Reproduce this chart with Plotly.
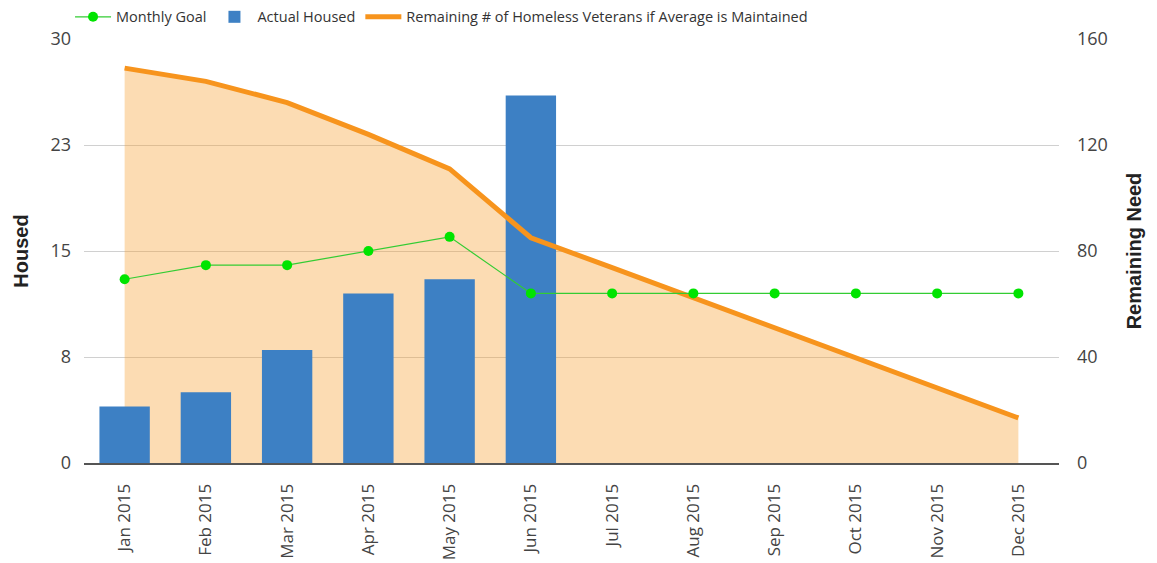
import plotly.graph_objects as go

months = ["Jan 2015", "Feb 2015", "Mar 2015", "Apr 2015", "May 2015", "Jun 2015",
          "Jul 2015", "Aug 2015", "Sep 2015", "Oct 2015", "Nov 2015", "Dec 2015"]
monthly_goal = [13, 14, 14, 15, 16, 12, 12, 12, 12, 12, 12, 12]
actual_months = months[:6]
actual_housed = [4, 5, 8, 12, 13, 26]
remaining = [149, 144, 136, 124, 111, 85, 73.7, 62.3, 51, 39.7, 28.3, 17]

left_tickvals = [0, 7.5, 15, 22.5, 30]
left_ticktext = ["0", "8", "15", "23", "30"]
right_tickvals = [0, 40, 80, 120, 160]

ORANGE = "#F7941D"
BLUE = "#3D80C4"
GREEN = "#00E400"

fig = go.Figure()

# area fill (base axis y, right side)
fig.add_trace(go.Scatter(
    x=months, y=remaining, yaxis="y", mode="none", fill="tozeroy",
    fillcolor="rgba(248,160,50,0.37)", showlegend=False, hoverinfo="skip"))

# bars on left axis (overlay)
fig.add_trace(go.Bar(
    x=actual_months, y=actual_housed, yaxis="y2", name="Actual Housed",
    marker=dict(color=BLUE, line=dict(width=0)), width=0.62, legendrank=2))

# orange line on top of bars
fig.add_trace(go.Scatter(
    x=months, y=remaining, yaxis="y3", mode="lines",
    name="Remaining # of Homeless Veterans if Average is Maintained",
    line=dict(color=ORANGE, width=5), legendrank=3))

# green goal line
fig.add_trace(go.Scatter(
    x=months, y=monthly_goal, yaxis="y4", mode="lines+markers", name="Monthly Goal",
    line=dict(color="#33CC33", width=1.2), marker=dict(color=GREEN, size=10), legendrank=1))

tickfont = dict(family="Open Sans", size=18, color="#444")
xtickfont = dict(family="Open Sans", size=17, color="#444")
titlefont = dict(family="Liberation Sans", size=20, color="#222")

fig.update_layout(
    width=1149, height=555,
    margin=dict(l=76, r=98, t=31, b=100),
    plot_bgcolor="white", paper_bgcolor="white",
    xaxis=dict(type="category", range=[-0.5, 11.5], tickangle=-90, tickfont=xtickfont,
               showgrid=False, showline=True, linecolor="#555", linewidth=2, ticks="",
               ticklabelstandoff=12, automargin=False),
    yaxis=dict(side="right", range=[0, 160], tickvals=right_tickvals, tickfont=tickfont,
               showgrid=True, gridcolor="#D0D0D0", gridwidth=1, zeroline=False,
               ticklabelstandoff=17, automargin=False,
               title=dict(text="<b>Remaining Need</b>", font=titlefont, standoff=20)),
    yaxis2=dict(side="left", overlaying="y", range=[0, 30], tickvals=left_tickvals,
                ticktext=left_ticktext, tickfont=tickfont, showgrid=False, zeroline=False,
                ticklabelstandoff=12, automargin=False,
                title=dict(text="<b>Housed</b>", font=titlefont, standoff=16)),
    yaxis3=dict(overlaying="y", range=[0, 160], visible=False),
    yaxis4=dict(overlaying="y", range=[0, 30], visible=False),
    legend=dict(orientation="h", xref="container", x=0.054, xanchor="left",
                yref="container", y=0.984, yanchor="middle",
                font=dict(family="Open Sans", size=14.5, color="#333"), itemwidth=36,
                traceorder="normal", bgcolor="rgba(0,0,0,0)"),
    font=dict(family="Open Sans"),
)

fig.write_html("out.html")
